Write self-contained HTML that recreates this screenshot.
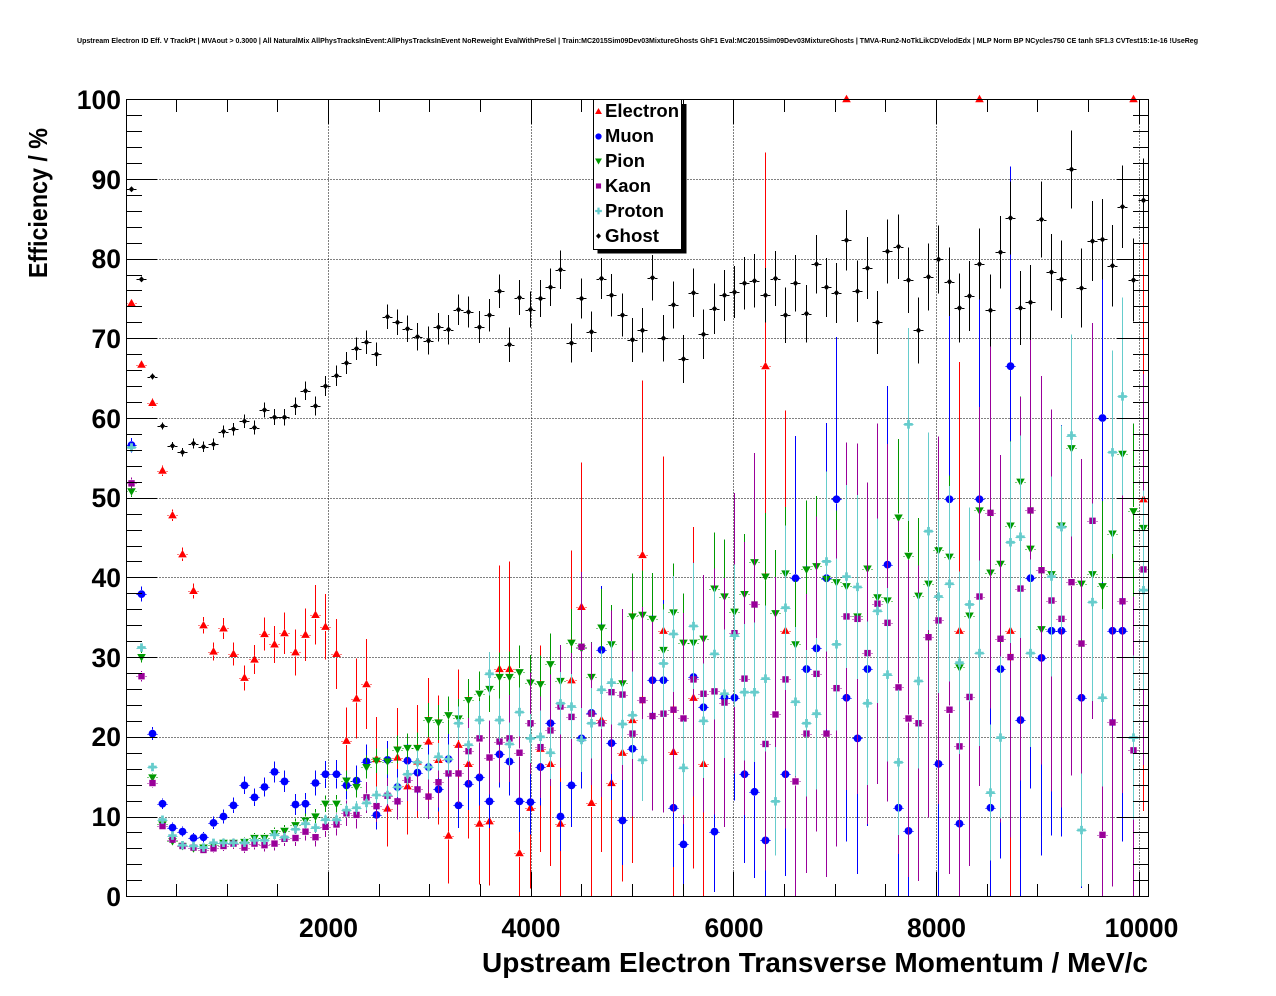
<!DOCTYPE html>
<html><head><meta charset="utf-8">
<style>
html,body{margin:0;padding:0;background:#fff;overflow:hidden;}
svg{display:block;}
text{font-family:"Liberation Sans",Arial,Helvetica,sans-serif;font-weight:bold;fill:#000;}
</style></head>
<body>
<svg id="s" width="1276" height="996" viewBox="0 0 1276 996" xmlns="http://www.w3.org/2000/svg">
<rect x="0" y="0" width="1276" height="996" fill="#fff"/>
<g id="grid" shape-rendering="crispEdges"></g>
<g id="data"></g>
<rect x="126.5" y="99.5" width="1022" height="797" fill="none" stroke="#000" stroke-width="1" shape-rendering="crispEdges"/>
<g id="ticks" shape-rendering="crispEdges"></g>

<text x="637.5" y="43" font-size="7" text-anchor="middle" textLength="1121" lengthAdjust="spacingAndGlyphs">Upstream Electron ID Eff. V TrackPt | MVAout &gt; 0.3000 | All NaturalMix AllPhysTracksInEvent:AllPhysTracksInEvent NoReweight EvalWithPreSel | Train:MC2015Sim09Dev03MixtureGhosts GhF1 Eval:MC2015Sim09Dev03MixtureGhosts | TMVA-Run2-NoTkLikCDVelodEdx | MLP Norm BP NCycles750 CE tanh SF1.3 CVTest15:1e-16 !UseReg</text>

<g font-size="26.5" text-anchor="end">
<text x="121" y="906">0</text>
<text x="121" y="826">10</text>
<text x="121" y="746">20</text>
<text x="121" y="667">30</text>
<text x="121" y="587">40</text>
<text x="121" y="507">50</text>
<text x="121" y="428">60</text>
<text x="121" y="348">70</text>
<text x="121" y="268">80</text>
<text x="121" y="189">90</text>
<text x="121" y="109">100</text>
</g>
<g font-size="26.5" text-anchor="middle">
<text x="328.5" y="937">2000</text>
<text x="531" y="937">4000</text>
<text x="734" y="937">6000</text>
<text x="936.5" y="937">8000</text>
<text x="1141.5" y="937">10000</text>
</g>
<text x="1148" y="972" font-size="28" text-anchor="end" textLength="666" lengthAdjust="spacingAndGlyphs">Upstream Electron Transverse Momentum / MeV/c</text>
<text transform="translate(47,278) rotate(-90)" font-size="26" textLength="150" lengthAdjust="spacingAndGlyphs">Efficiency / %</text>

<g id="legend">
<rect x="597.5" y="104" width="89" height="149.5" fill="#000"/>
<rect x="593.5" y="99.5" width="88" height="150" fill="#fff" stroke="#000" stroke-width="1" shape-rendering="crispEdges"/>
<g id="legm"></g>
<g font-size="18.5">
<text x="605" y="117" textLength="74" lengthAdjust="spacingAndGlyphs">Electron</text>
<text x="605" y="142" textLength="49" lengthAdjust="spacingAndGlyphs">Muon</text>
<text x="605" y="167" textLength="40" lengthAdjust="spacingAndGlyphs">Pion</text>
<text x="605" y="192" textLength="46" lengthAdjust="spacingAndGlyphs">Kaon</text>
<text x="605" y="217" textLength="59" lengthAdjust="spacingAndGlyphs">Proton</text>
<text x="605" y="242" textLength="54" lengthAdjust="spacingAndGlyphs">Ghost</text>
</g>
</g>
</svg>
<script>
(function(){
const NS="http://www.w3.org/2000/svg";
function el(tag,attrs,parent){const e=document.createElementNS(NS,tag);for(const k in attrs)e.setAttribute(k,attrs[k]);parent.appendChild(e);return e;}
const GD=document.getElementById("data"), GG=document.getElementById("grid"), GT=document.getElementById("ticks"), GL=document.getElementById("legm");
function X(i){return 131.7+10.218*i;}
function Y(v){return 896.2-7.97*v;}
function Xv(v){return 125.5+0.1013*v;}
function seg(p,x1,y1,x2,y2,c,extra){const a={x1:x1,y1:y1,x2:x2,y2:y2,stroke:c,"stroke-width":1};if(extra)for(const k in extra)a[k]=extra[k];el("line",a,p);}

// grid
[2000,4000,6000,8000,10000].forEach(v=>{const x=Math.round(Xv(v))+0.5;seg(GG,x,99.5,x,896.5,"#000",{"stroke-dasharray":"1,2"});});
for(let v=10;v<=90;v+=10){const y=Math.round(Y(v))+0.5;seg(GG,126.5,y,1148.5,y,"#000",{"stroke-dasharray":"1,2"});}
// x ticks
for(let v=500;v<=10000;v+=500){const x=Math.round(Xv(v))+0.5;const maj=(v%2000===0);const L=maj?24.5:12.5;
 seg(GT,x,896.5,x,896.5-L,"#000");seg(GT,x,99.5,x,99.5+L,"#000");}
// y ticks
for(let v=0;v<=100;v+=2){const y=(v===0)?896.5:(v===100?99.5:Math.round(Y(v))+0.5);const maj=(v%10===0);const L=maj?31:15.5;
 seg(GT,126.5,y,126.5+L,y,"#000");seg(GT,1148.5,y,1148.5-L,y,"#000");}

function marker(p,type,x,y,c,s){
 s=s||1;
 if(type==="tu") el("polygon",{points:`${x},${y-4.4*s} ${x-4.3*s},${y+3.1*s} ${x+4.3*s},${y+3.1*s}`,fill:c},p);
 else if(type==="td") el("polygon",{points:`${x},${y+4.4*s} ${x-4.3*s},${y-3.1*s} ${x+4.3*s},${y-3.1*s}`,fill:c},p);
 else if(type==="ci") el("circle",{cx:x,cy:y,r:3.9*s,fill:c},p);
 else if(type==="sq") el("rect",{x:x-3.2*s,y:y-3.2*s,width:6.4*s,height:6.4*s,fill:c},p);
 else if(type==="cr") el("polygon",{points:`${x-1.4*s},${y-4.2*s} ${x+1.4*s},${y-4.2*s} ${x+1.4*s},${y-1.4*s} ${x+4.2*s},${y-1.4*s} ${x+4.2*s},${y+1.4*s} ${x+1.4*s},${y+1.4*s} ${x+1.4*s},${y+4.2*s} ${x-1.4*s},${y+4.2*s} ${x-1.4*s},${y+1.4*s} ${x-4.2*s},${y+1.4*s} ${x-4.2*s},${y-1.4*s} ${x-1.4*s},${y-1.4*s}`,fill:c},p);
 else if(type==="di") el("polygon",{points:`${x},${y-3*s} ${x+2.8*s},${y} ${x},${y+3*s} ${x-2.8*s},${y}`,fill:c},p);
}
const n=null;
const E=[74.4,66.7,61.9,53.4,47.8,42.9,38.3,34.0,30.7,33.6,30.4,27.4,29.7,32.9,31.6,33.0,30.6,32.8,35.3,33.8,
30.4,19.5,24.8,26.6,17.2,11.0,17.4,13.8,16.9,19.4,17.1,7.6,19.0,16.6,9.1,9.4,28.5,28.5,5.4,11.1,
18.5,16.6,9.1,27.1,36.3,11.7,22.1,14.2,18.0,22.1,42.8,n,33.3,18.1,n,24.9,16.6,n,n,n,
n,n,66.5,n,33.3,n,n,n,n,n,100,n,n,n,n,n,n,n,n,n,
n,33.3,n,100,n,n,33.3,n,n,n,n,n,n,n,n,n,n,n,100,49.8];
const M=[56.6,37.9,20.4,11.6,8.6,8.1,7.3,7.4,9.2,10.0,11.4,13.9,12.4,13.7,15.6,14.4,11.5,11.6,14.2,15.3,
15.3,13.9,14.5,16.9,10.2,17.1,13.7,17.0,15.5,16.2,13.4,17.2,11.4,14.1,14.9,11.9,17.8,16.9,11.9,11.8,
16.2,21.7,10.0,13.9,19.8,23.0,30.9,19.2,9.5,18.5,n,27.1,27.1,11.1,6.5,27.5,23.7,8.1,24.9,24.9,
15.3,13.1,7.0,n,15.3,39.9,28.5,31.1,39.9,49.8,24.9,19.8,28.5,n,41.6,11.1,8.2,n,n,16.6,
49.8,9.1,n,49.8,11.1,28.5,66.5,22.1,39.9,29.9,33.3,33.3,n,24.9,n,60.0,33.3,33.3,n,n];
const P=[50.8,30.0,14.9,9.0,6.9,6.3,6.0,6.1,6.4,6.7,6.7,6.8,7.3,7.3,7.9,8.2,8.9,9.5,10.0,11.6,
11.6,14.5,13.7,16.2,17.0,16.9,18.4,18.6,18.6,22.1,21.8,22.7,22.3,24.6,25.4,26.0,27.5,27.5,28.1,26.8,
26.6,29.1,27.0,31.8,31.1,27.5,33.7,31.6,26.7,35.1,35.3,34.8,30.9,35.6,31.8,31.8,32.3,38.6,37.6,35.7,
37.9,41.9,40.1,35.5,40.5,31.6,41.0,41.4,39.8,39.4,38.9,35.1,41.1,37.5,37.1,47.5,42.7,37.7,39.2,43.4,
42.6,28.7,35.2,48.4,40.6,41.7,46.5,52.0,43.6,33.5,40.4,46.5,56.2,39.2,40.4,38.9,45.5,55.5,48.3,46.2];
const K=[51.8,27.6,14.2,8.8,7.1,6.3,6.1,5.8,6.0,6.3,6.6,6.1,6.6,6.4,6.6,7.2,7.3,8.1,7.4,8.7,
9.0,10.4,10.2,12.4,11.3,12.6,11.9,14.6,13.4,12.5,14.3,15.4,15.4,18.2,19.8,17.4,19.4,19.8,18.0,21.7,
18.7,20.8,23.8,22.5,31.3,22.9,21.7,25.6,25.3,20.4,24.6,22.6,22.9,23.4,22.3,27.2,25.4,25.7,24.3,33.0,
27.3,36.6,19.1,22.8,27.2,14.4,20.4,27.9,20.4,26.1,35.1,34.8,30.5,36.7,34.3,26.2,22.3,21.7,32.5,34.6,
23.4,18.8,25.0,37.6,48.1,32.3,30.0,38.6,48.4,40.9,37.1,34.8,39.4,31.7,47.1,7.7,21.8,37.0,18.3,41.0];
const PR=[56.3,31.2,16.2,9.6,7.6,6.4,6.3,6.1,6.7,6.7,6.7,6.7,7.0,7.0,7.7,7.4,8.4,9.1,8.6,9.6,
9.6,10.8,11.1,11.7,12.7,12.7,13.7,15.3,16.8,16.2,17.5,17.2,21.7,19.0,22.1,27.9,22.1,19.1,23.1,19.8,
20.0,18.0,24.2,23.8,19.6,21.7,25.9,26.8,21.6,22.7,17.1,n,29.2,32.9,16.1,33.9,22.0,30.4,25.4,32.7,
25.6,25.6,27.3,11.9,36.2,24.4,21.7,22.9,42.0,31.6,40.1,38.8,24.2,35.8,27.8,16.8,59.2,27.0,45.8,37.6,
39.2,29.3,36.6,30.5,13.0,19.9,44.4,45.1,30.5,n,40.1,46.3,57.8,8.3,36.9,24.9,55.7,62.7,19.9,38.4];
const GH=[88.7,77.4,65.2,59.0,56.5,55.7,56.8,56.4,56.7,58.3,58.6,59.6,58.8,61.0,60.1,60.1,61.5,63.4,61.5,64.0,
65.3,66.9,68.7,69.5,68.0,72.7,72.0,71.2,70.2,69.7,71.4,71.1,73.6,73.3,71.4,72.9,75.9,69.2,75.1,73.6,
75.0,76.4,78.6,69.4,75.0,70.8,77.5,75.4,72.9,69.8,71.0,77.6,70.0,74.2,67.4,75.7,70.5,73.7,75.4,75.8,
76.9,77.2,75.4,77.5,72.9,76.9,73.1,79.3,76.4,75.7,82.3,75.9,78.8,72.0,80.9,81.5,77.3,71.0,77.7,79.9,
77.1,73.8,75.3,79.3,73.5,80.8,85.1,73.8,74.5,84.9,78.3,77.4,91.2,76.3,82.2,82.4,79.1,86.5,77.3,87.3];

function binErr(v,N){const p=v/100;const q=p*(1-p);if(q<=0)return 0;return 100*Math.sqrt(q/N);}
const series=[
 {d:E,c:"#ff0000",m:"tu",g:4,err:(v,i)=>binErr(v,12000*Math.exp(-i/4)+100*Math.exp(-i/15)+1.5)},
 {d:M,c:"#0000ff",m:"ci",g:4,err:(v,i)=>binErr(v,3000*Math.exp(-i/10)+3)},
 {d:P,c:"#009a00",m:"td",g:4,err:(v,i)=>binErr(v,5000*Math.exp(-i/11)+20)},
 {d:K,c:"#990099",m:"sq",g:4,err:(v,i)=>binErr(v,5000*Math.exp(-i/8)+4)},
 {d:PR,c:"#66cccc",m:"cr",g:4,err:(v,i)=>binErr(v,20000*Math.exp(-i/8)+15)},
 {d:GH,c:"#000000",m:"di",g:2.5,err:(v,i)=>0.3+0.05*i}
];
series.forEach(s=>{
 const grp=el("g",{},GD);
 const bars=el("g",{"shape-rendering":"crispEdges"},grp);
 const mk=el("g",{},grp);
 s.d.forEach((v,i)=>{
  if(v===null||v===undefined)return;
  const x=Math.floor(X(i))+0.5;
  const y=Y(v);
  const yr=Math.round(y)+0.5;
  const g=s.g;
  seg(bars,x-5.1,yr,x-g,yr,s.c);
  seg(bars,x+g,yr,x+5.1,yr,s.c);
  const e=s.err(v,i);
  const hi=Math.min(100,v+e), lo=Math.max(0,v-e);
  const yh=Y(hi), yl=Y(lo);
  if(yh<y-g) seg(bars,x,yh,x,y-g,s.c);
  if(yl>y+g) seg(bars,x,y+g,x,yl,s.c);
  marker(mk,s.m,x,y,s.c,1);
 });
});
// legend markers
marker(GL,"tu",598.5,111.5,"#ff0000",0.8);
marker(GL,"ci",598.5,136.5,"#0000ff",0.8);
marker(GL,"td",598.5,161,"#009a00",0.8);
marker(GL,"sq",598.5,186,"#990099",0.8);
marker(GL,"cr",598.5,211,"#66cccc",0.8);
marker(GL,"di",598.5,236,"#000000",0.9);
})();
</script>
</body></html>
